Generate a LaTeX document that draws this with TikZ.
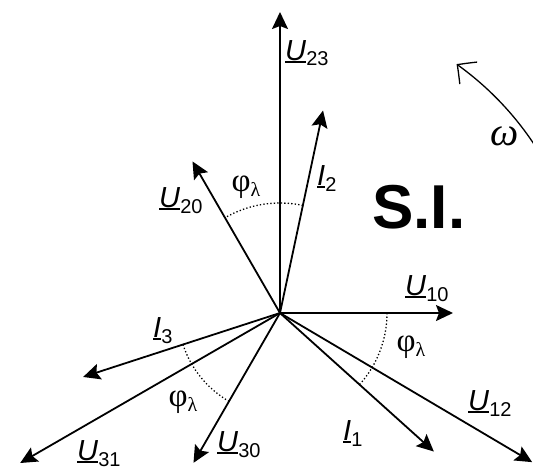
\documentclass[tikz,border=0pt]{standalone}
\usepackage{fontspec}
\setmainfont{Liberation Sans}
\newfontfamily\serifgr{Liberation Serif}
\usetikzlibrary{arrows.meta,bending}
\newcommand\myul[1]{\setbox0\hbox{#1}\rlap{\rule[-3pt]{\wd0}{1.7pt}}\box0}
\newcommand\phasor[2]{\myul{\itshape #1\/}\raisebox{-6pt}{\fontsize{20}{20}\selectfont #2}}
\newcommand\phil{{\serifgr φ}\raisebox{-5pt}{\fontsize{20}{20}\selectfont\serifgr λ}}
\tikzset{
  vec/.style={line width=1.8pt, -{Stealth[length=17pt,width=16pt,inset=3pt]}},
  angarc/.style={line width=1.3pt, dash pattern=on 1.3pt off 2.2pt},
  lab/.style={anchor=base west, inner sep=0pt, font=\fontsize{29}{29}\selectfont},
  philab/.style={inner sep=0pt, font=\fontsize{33}{33}\selectfont},
  rot/.style={line width=1.3pt, -{Straight Barb[bend,length=14pt,width=28pt,line width=1.3pt]}}
}
\begin{document}
\begin{tikzpicture}[x=1pt,y=1pt]
\useasboundingbox (-280,-159) rectangle (253,313);
\clip (-280,-159) rectangle (253,313);
\coordinate (O) at (0,0);
\coordinate (u10) at (0:173);
\coordinate (u20) at (120:175);
\coordinate (u30) at (240:173);
\coordinate (u12) at (-30.6:293);
\coordinate (u23) at (90:301);
\coordinate (u31) at (210:300);
\coordinate (i1) at (-42:207);
\coordinate (i2) at (78:207);
\coordinate (i3) at (198:207);
\coordinate (ws) at (31:305);
% phasors
\draw[vec] (O) -- (u10);
\draw[vec] (O) -- (u20);
\draw[vec] (O) -- (u30);
\draw[vec] (O) -- (u12);
\draw[vec] (O) -- (u23);
\draw[vec] (O) -- (u31);
\draw[vec] (O) -- (i1);
\draw[vec] (O) -- (i2);
\draw[vec] (O) -- (i3);
% angle arcs
\draw[angarc] (0:107) arc[start angle=0, end angle=-42, radius=107];
\draw[angarc] (78:110) arc[start angle=78, end angle=120, radius=110];
\draw[angarc] (198:102) arc[start angle=198, end angle=240, radius=102];
% rotation
\draw[rot] (ws) arc[start angle=31, end angle=54.5, radius=307];
% labels
\node[lab] (lU23) at (5,253) {\phasor{U}{23}};
\node[lab] (lU20) at (-121,106) {\phasor{U}{20}};
\node[lab] (lI2) at (37,128) {\phasor{I}{2}};
\node[lab] (lU10) at (125,18) {\phasor{U}{10}};
\node[lab] (lI3) at (-127,-24) {\phasor{I}{3}};
\node[lab] (lU31) at (-203,-147) {\phasor{U}{31}};
\node[lab] (lU30) at (-63,-138) {\phasor{U}{30}};
\node[lab] (lI1) at (63,-127) {\phasor{I}{1}};
\node[lab] (lU12) at (188,-97) {\phasor{U}{12}};
\node[philab] (p1) at (131,-34) {\phil};
\node[philab] (p2) at (-34,126) {\phil};
\node[philab] (p3) at (-97,-89) {\phil};
\node[anchor=base west, inner sep=0pt, font=\fontsize{62}{62}\selectfont\bfseries] (si) at (92,85) {S.I.};
\node[inner sep=0pt, font=\fontsize{40}{40}\selectfont\serifgr\itshape] (w) at (225,177) {ω};
\end{tikzpicture}
\end{document}
